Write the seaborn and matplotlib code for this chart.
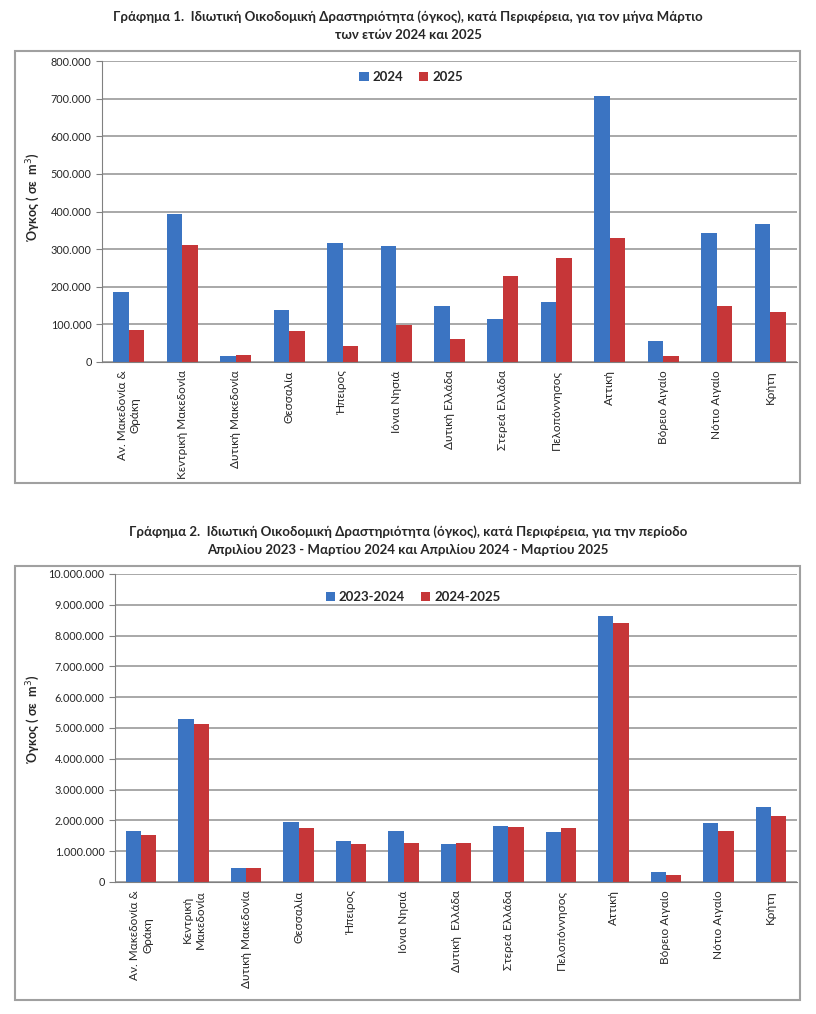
import numpy as np
import pandas as pd
import matplotlib.pyplot as plt
import seaborn as sns
from matplotlib.ticker import FuncFormatter, MultipleLocator
from matplotlib.patches import Rectangle

sns.set_style("white")
plt.rcParams['font.family'] = ['Lato', 'DejaVu Sans']

regions = ["Αν. Μακεδονία &", "Κεντρική Μακεδονία", "Δυτική Μακεδονία", "Θεσσαλία",
           "Ήπειρος", "Ιόνια Νησιά", "Δυτική Ελλάδα", "Στερεά Ελλάδα", "Πελοπόννησος",
           "Αττική", "Βόρειο Αιγαίο", "Νότιο Αιγαίο", "Κρήτη"]
labels1 = ["Αν. Μακεδονία &\nΘράκη", "Κεντρική Μακεδονία", "Δυτική Μακεδονία", "Θεσσαλία",
           "Ήπειρος", "Ιόνια Νησιά", "Δυτική Ελλάδα", "Στερεά Ελλάδα", "Πελοπόννησος",
           "Αττική", "Βόρειο Αιγαίο", "Νότιο Αιγαίο", "Κρήτη"]
labels2 = ["Αν. Μακεδονία &\nΘράκη", "Κεντρική\nΜακεδονία", "Δυτική Μακεδονία", "Θεσσαλία",
           "Ήπειρος", "Ιόνια Νησιά", "Δυτική  Ελλάδα", "Στερεά Ελλάδα", "Πελοπόννησος",
           "Αττική", "Βόρειο Αιγαίο", "Νότιο Αιγαίο", "Κρήτη"]

march_2024 = [185000, 394000, 16000, 139000, 316000, 308000, 149000, 115000, 159000,
              708000, 57000, 344000, 368000]
march_2025 = [86000, 312000, 19000, 82000, 43000, 98000, 62000, 228000, 277000,
              330000, 15000, 150000, 132000]

period_2324 = [1650000, 5280000, 450000, 1950000, 1320000, 1650000, 1230000, 1830000, 1620000,
               8650000, 320000, 1900000, 2430000]
period_2425 = [1520000, 5120000, 450000, 1750000, 1240000, 1270000, 1270000, 1800000, 1750000,
               8400000, 230000, 1650000, 2130000]

blue = "#3B74C2"
red = "#C63638"


def dotted(v, pos):
    return f"{int(round(v)):,}".replace(",", ".")


def draw(ax, a, b, names, ticklabels, ymax, step, leg_xy, ylab_xy):
    df = pd.DataFrame({"region": regions * 2, "value": a + b,
                       "series": [names[0]] * len(a) + [names[1]] * len(b)})
    sns.barplot(data=df, x="region", y="value", hue="series", order=regions,
                palette=[blue, red], width=0.58, gap=0, saturation=1, ax=ax,
                edgecolor="none")
    ax.set_ylim(0, ymax)
    ax.set_xlim(-0.5, len(regions) - 0.5)
    ax.yaxis.set_major_locator(MultipleLocator(step))
    ax.yaxis.set_major_formatter(FuncFormatter(dotted))
    ax.yaxis.grid(True, color="#9a9a9a", linewidth=1.2)
    ax.set_axisbelow(True)
    for s in ["top", "right"]:
        ax.spines[s].set_visible(False)
    for s in ["left", "bottom"]:
        ax.spines[s].set_color("#808080")
    ax.set_xticks(np.arange(len(regions)))
    ax.set_xticklabels(ticklabels, rotation=90, fontsize=8.5, va="top", ha="center",
                       multialignment="center")
    ax.set_xticks(np.arange(len(regions) + 1) - 0.5, minor=True)
    ax.tick_params(axis="x", which="major", length=0, pad=6)
    ax.tick_params(axis="x", which="minor", length=4, color="#808080", direction="out")
    ax.tick_params(axis="y", length=4, color="#808080", direction="out", labelsize=7.8,
                   left=True)
    ax.set_xlabel("")
    ax.set_ylabel("Όγκος ( σε  m$^3$)", fontsize=9, fontweight="bold")
    ax.yaxis.set_label_coords(*ylab_xy)
    ax.legend(loc="center", bbox_to_anchor=leg_xy, ncol=2, frameon=False,
              handlelength=0.7, handleheight=0.7, handletextpad=0.3, columnspacing=1.2,
              prop={"weight": "bold", "size": 9.5})


fig = plt.figure(figsize=(8.16, 10.14), dpi=100)
W, H = 816, 1014

ax1 = fig.add_axes([102 / W, 1 - 362 / H, 695 / W, 301 / H])
draw(ax1, march_2024, march_2025, ["2024", "2025"], labels1, 800000, 100000,
     (0.445, 0.947), (-0.086, 0.55))

ax2 = fig.add_axes([115 / W, 1 - 882 / H, 682 / W, 308 / H])
draw(ax2, period_2324, period_2425, ["2023-2024", "2024-2025"], labels2, 10000000, 1000000,
     (0.437, 0.925), (-0.107, 0.53))

for y0, y1 in [(51, 483), (566, 1000)]:
    fig.patches.append(Rectangle((15 / W, 1 - y1 / H), 785 / W, (y1 - y0) / H,
                                 transform=fig.transFigure, fill=False,
                                 edgecolor="#a0a0a0", linewidth=1.5))

fig.text(0.5, 1 - 17 / H,
         "Γράφημα 1.  Ιδιωτική Οικοδομική Δραστηριότητα (όγκος), κατά Περιφέρεια, για τον μήνα Μάρτιο",
         ha="center", va="center", fontsize=9.5, fontweight="bold")
fig.text(0.5, 1 - 35 / H, "των ετών 2024 και 2025",
         ha="center", va="center", fontsize=9.5, fontweight="bold")
fig.text(0.5, 1 - 532 / H,
         "Γράφημα 2.  Ιδιωτική Οικοδομική Δραστηριότητα (όγκος), κατά Περιφέρεια, για την περίοδο",
         ha="center", va="center", fontsize=9.5, fontweight="bold")
fig.text(0.5, 1 - 550 / H, "Απριλίου 2023 - Μαρτίου 2024 και Απριλίου 2024 - Μαρτίου 2025",
         ha="center", va="center", fontsize=9.5, fontweight="bold")

fig.savefig("out.png", dpi=100)
